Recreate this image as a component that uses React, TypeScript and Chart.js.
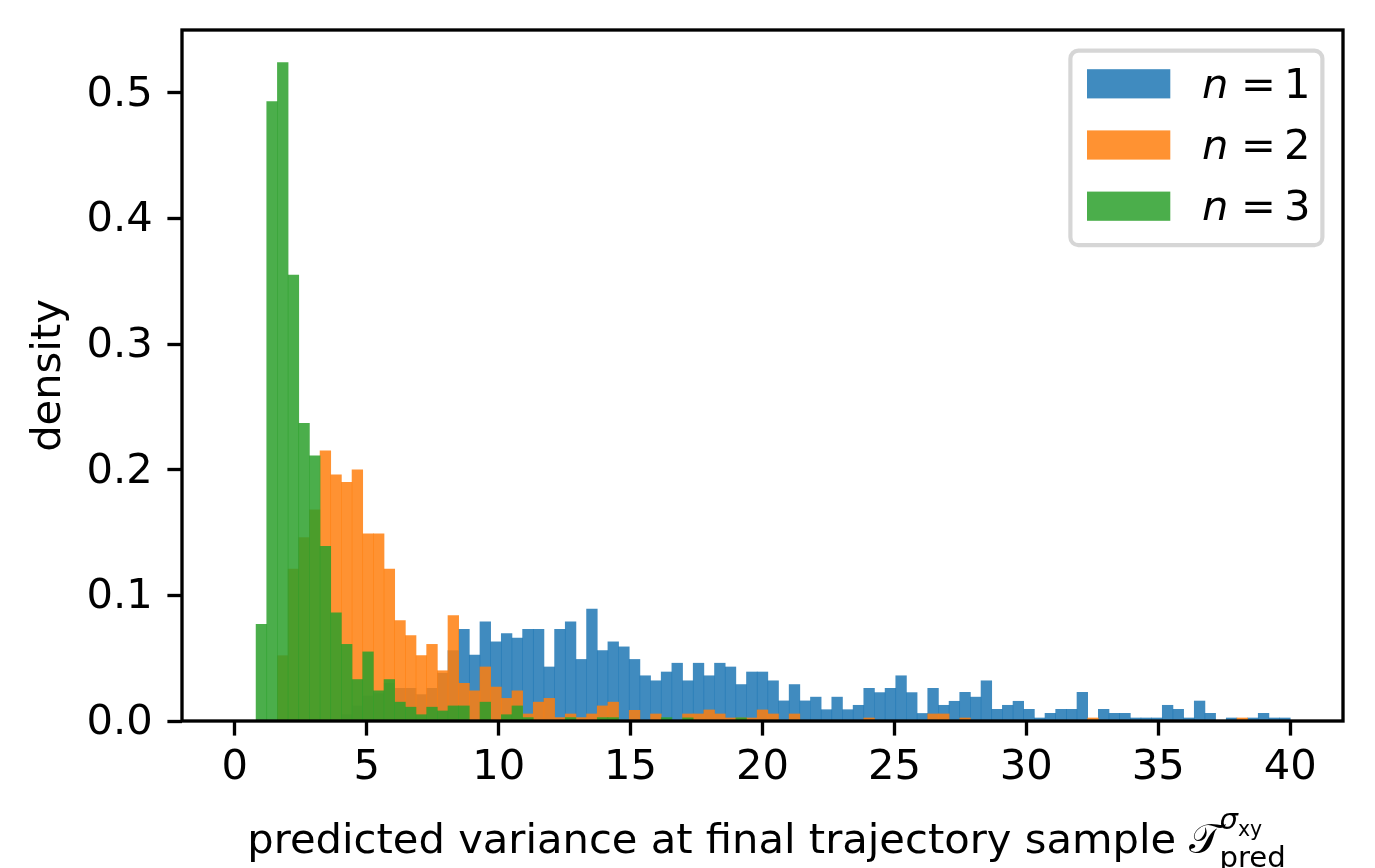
import { useEffect, useRef } from "react";
import { Chart, registerables } from "chart.js";

Chart.register(...registerables);

// Histogram binning: 99 equal-width bins spanning [0, 40]
const BIN_START = 0;
const BIN_END = 40;
const BIN_COUNT = 99;

const X_TICKS = [0, 5, 10, 15, 20, 25, 30, 35, 40];
const Y_TICKS = [0, 0.1, 0.2, 0.3, 0.4, 0.5];

const SERIES_N = [1, 2, 3];
const SERIES_COLORS = [
  "rgba(31,119,180,0.85)",
  "rgba(255,127,14,0.85)",
  "rgba(44,160,44,0.85)",
];

// density per bin, n = 1
const DENSITY_N1 = [
  0, 0,
  0, 0, 0, 0, 0, 0, 0, 0,
  0.005, 0.012, 0.02, 0.022, 0.03,
  0.026, 0.026, 0.021, 0.026, 0.038, 0.056, 0.073,
  0.0525, 0.079, 0.063, 0.0695, 0.066, 0.073, 0.073, 0.043, 0.073, 0.079,
  0.049, 0.089, 0.056, 0.063, 0.059, 0.049, 0.036, 0.032, 0.039, 0.046,
  0.032, 0.046, 0.036, 0.046, 0.043, 0.029, 0.039, 0.039, 0.032, 0.016,
  0.029, 0.016, 0.019, 0.009, 0.019, 0.009, 0.0125, 0.026, 0.0226, 0.026,
  0.036, 0.0226, 0.006, 0.026, 0.0125, 0.0157, 0.0228, 0.019, 0.032, 0.0093,
  0.0125, 0.0157, 0.0093, 0.0024, 0.0061, 0.0093, 0.0093, 0.0228, 0, 0.0093,
  0.0061, 0.0061, 0.0024, 0.0024, 0.0024, 0.0125, 0.0093, 0.0024, 0.0159, 0.0061,
  0, 0.0024, 0, 0.0024, 0.0061, 0.0024, 0.0024,
];

// density per bin, n = 2
const DENSITY_N2 = [
  0, 0,
  0, 0, 0.052, 0.121, 0.146, 0.168, 0.215, 0.196, 0.19, 0.2,
  0.149, 0.149, 0.121, 0.08, 0.068, 0.052, 0.061, 0.04, 0.084, 0.03,
  0.024, 0.043, 0.027, 0.018, 0.024, 0.0056, 0.015, 0.018, 0.0027, 0.0056,
  0.0027, 0.0056, 0.012, 0.015, 0, 0.0085, 0, 0.0056, 0, 0,
  0.0056, 0.0056, 0.0088, 0.0056, 0.0024, 0.0024, 0.0024, 0.0088, 0.0056, 0,
  0.0056, 0, 0, 0, 0, 0, 0, 0.0024, 0, 0,
  0, 0, 0, 0.0056, 0.0056, 0, 0.0024, 0, 0, 0,
  0, 0, 0, 0, 0, 0, 0, 0, 0.0024, 0,
  0, 0, 0, 0, 0, 0, 0, 0, 0, 0,
  0, 0, 0.0024, 0, 0, 0, 0,
];

// density per bin, n = 3
const DENSITY_N3 = [
  0, 0,
  0.077, 0.493, 0.524, 0.355, 0.237, 0.211, 0.139, 0.086, 0.061, 0.033,
  0.055, 0.024, 0.033, 0.015, 0.011, 0.005, 0.011, 0.008, 0.012, 0.012,
  0, 0.015, 0, 0.005, 0.012, 0.0027, 0, 0, 0, 0.0027,
  0, 0, 0.0027, 0.0027, 0, 0, 0, 0, 0.0027, 0,
  0.0025, 0, 0, 0, 0, 0.0025, 0, 0, 0, 0,
  0, 0, 0, 0, 0, 0, 0, 0, 0, 0,
  0, 0, 0, 0, 0, 0, 0, 0, 0, 0,
  0, 0, 0, 0, 0, 0, 0, 0, 0, 0,
  0, 0, 0, 0, 0, 0, 0, 0, 0, 0,
  0, 0, 0, 0, 0, 0, 0,
];

const SERIES_DENSITY = [DENSITY_N1, DENSITY_N2, DENSITY_N3];

const FONT = '"DejaVu Sans", sans-serif';
const FS = 41.67;
const LINE = 3.33;

const binWidth = (BIN_END - BIN_START) / BIN_COUNT;
const toPoints = (vals: number[]) =>
  vals.map((y, i) => ({ x: BIN_START + (i + 0.5) * binWidth, y }));

const decorations = {
  id: "decorations",
  afterDatasetsDraw(chart: any) {
    const { ctx, chartArea: a } = chart;
    ctx.save();
    ctx.strokeStyle = "#000";
    ctx.lineWidth = LINE;
    ctx.lineJoin = "miter";
    ctx.strokeRect(a.left, a.top, a.right - a.left, a.bottom - a.top);
    ctx.restore();
  },
  afterDraw(chart: any) {
    const { ctx, chartArea: a } = chart;
    ctx.save();

    // legend box
    const lx = 1070.4;
    const ly = 50.6;
    const lw = 1322.4 - lx;
    const lh = 245.2 - ly;
    ctx.beginPath();
    ctx.roundRect(lx, ly, lw, lh, 8);
    ctx.fillStyle = "rgba(255,255,255,0.8)";
    ctx.fill();
    ctx.lineWidth = 4.17;
    ctx.strokeStyle = "rgba(204,204,204,0.8)";
    ctx.stroke();

    SERIES_N.forEach((n, i) => {
      const cy = 83.8 + i * 61.2;
      ctx.fillStyle = SERIES_COLORS[i];
      ctx.fillRect(1087, cy - 14.6, 83.3, 29.2);
      const base = cy + 14;
      ctx.fillStyle = "#000";
      ctx.textBaseline = "alphabetic";
      ctx.textAlign = "left";
      ctx.font = `italic ${FS}px ${FONT}`;
      ctx.fillText("n", 1202, base);
      ctx.font = `${FS}px ${FONT}`;
      ctx.fillText("=", 1241, base);
      ctx.fillText(String(n), 1284, base);
    });

    // y-axis title
    ctx.save();
    ctx.translate(60, (a.top + a.bottom) / 2);
    ctx.rotate(-Math.PI / 2);
    ctx.font = `${FS}px ${FONT}`;
    ctx.textAlign = "center";
    ctx.textBaseline = "alphabetic";
    ctx.fillStyle = "#000";
    ctx.fillText("density", 0, 0);
    ctx.restore();

    // x-axis title with script T, superscript sigma_xy and subscript pred
    const main = "predicted variance at final trajectory sample ";
    const s1 = FS * 0.7;
    const s2 = FS * 0.49;
    ctx.fillStyle = "#000";
    ctx.textAlign = "left";
    ctx.textBaseline = "alphabetic";
    ctx.font = `${FS}px ${FONT}`;
    const mainW = ctx.measureText(main).width;
    const tW = ctx.measureText("\u{1D4AF}").width;
    ctx.font = `italic ${s1}px ${FONT}`;
    const sigW = ctx.measureText("\u03C3").width;
    ctx.font = `${s2}px ${FONT}`;
    const xyW = ctx.measureText("xy").width;
    ctx.font = `${s1}px ${FONT}`;
    const predW = ctx.measureText("pred").width;
    const total = mainW + tW + Math.max(sigW + xyW, predW);
    const base = 853;
    let x = (a.left + a.right) / 2 - total / 2 + 5;
    ctx.font = `${FS}px ${FONT}`;
    ctx.fillText(main, x, base);
    x += mainW;
    ctx.fillText("\u{1D4AF}", x, base);
    x += tW - 2;
    ctx.font = `italic ${s1}px ${FONT}`;
    ctx.fillText("\u03C3", x, base - 24);
    ctx.font = `${s2}px ${FONT}`;
    ctx.fillText("xy", x + sigW, base - 17);
    ctx.font = `${s1}px ${FONT}`;
    ctx.fillText("pred", x, base + 14);

    ctx.restore();
  },
};

export default function App() {
  const ref = useRef<HTMLCanvasElement | null>(null);

  useEffect(() => {
    const canvas = ref.current;
    if (!canvas) return;
    const tickFont = { family: "DejaVu Sans", size: FS, lineHeight: 1 };
    const chart = new Chart(canvas, {
      type: "bar",
      data: {
        datasets: SERIES_DENSITY.map((vals, i) => ({
          label: `n = ${SERIES_N[i]}`,
          data: toPoints(vals),
          backgroundColor: SERIES_COLORS[i],
          borderWidth: 0,
          barPercentage: 1,
          categoryPercentage: 1,
          grouped: false,
          order: SERIES_N.length - i,
        })),
      },
      options: {
        responsive: false,
        devicePixelRatio: 1,
        animation: false,
        events: [],
        layout: { padding: { top: 30, right: 32, left: 0, bottom: 0 } },
        plugins: {
          legend: { display: false },
          tooltip: { enabled: false },
        },
        scales: {
          x: {
            type: "linear",
            min: -2,
            max: 42,
            offset: false,
            afterBuildTicks: (s: any) => {
              s.ticks = X_TICKS.map((v) => ({ value: v }));
            },
            afterFit: (s: any) => {
              s.height = 147;
              s.paddingLeft = 0;
              s.paddingRight = 0;
            },
            grid: {
              offset: false,
              drawOnChartArea: false,
              drawTicks: true,
              tickLength: 14.6,
              tickWidth: LINE,
              tickColor: "#000",
            },
            border: { display: false },
            ticks: {
              font: tickFont,
              color: "#000",
              padding: 12,
              maxRotation: 0,
              autoSkip: false,
              callback: (v: any) => String(v),
            },
          },
          y: {
            type: "linear",
            min: 0,
            max: 0.55,
            afterBuildTicks: (s: any) => {
              s.ticks = Y_TICKS.map((v) => ({ value: v }));
            },
            afterFit: (s: any) => {
              s.width = 182;
              s.paddingTop = 0;
              s.paddingBottom = 0;
            },
            grid: {
              offset: false,
              drawOnChartArea: false,
              drawTicks: true,
              tickLength: 14.6,
              tickWidth: LINE,
              tickColor: "#000",
            },
            border: { display: false },
            ticks: {
              font: tickFont,
              color: "#000",
              padding: 14.6,
              labelOffset: 2,
              autoSkip: false,
              callback: (v: any) => Number(v).toFixed(1),
            },
          },
        },
      },
      plugins: [decorations],
    } as any);
    return () => chart.destroy();
  }, []);

  return (
    <div style={{ position: "fixed", left: 0, top: 0, width: 1375, height: 868, background: "#fff" }}>
      <canvas ref={ref} width={1375} height={868} style={{ display: "block" }} />
    </div>
  );
}
